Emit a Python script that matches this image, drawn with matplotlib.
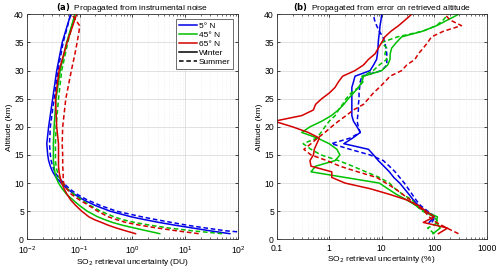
import numpy as np
import matplotlib
matplotlib.use("Agg")
import matplotlib.pyplot as plt
from matplotlib.lines import Line2D
from matplotlib.ticker import LogLocator, NullFormatter

plt.rcParams['font.family'] = ['Liberation Sans', 'DejaVu Sans']
plt.rcParams['font.size'] = 6

# panel (a): uncertainty from instrumental noise (DU)
alt_a = [1, 1.5, 2, 2.5, 3, 3.5, 4, 5, 6, 7, 8, 9, 10, 11, 12, 13, 14, 15, 17, 20, 25, 30, 35, 40]
a_5n_win = [70, 30, 14, 6.5, 3.2, 1.7, 0.95, 0.38, 0.2, 0.12, 0.08, 0.058, 0.045, 0.036, 0.031, 0.028,
            0.026, 0.025, 0.024, 0.026, 0.031, 0.037, 0.047, 0.068]
a_5n_sum = [250, 60, 25, 11, 5.5, 2.8, 1.5, 0.5, 0.25, 0.14, 0.09, 0.064, 0.05, 0.04, 0.034, 0.031,
            0.029, 0.028, 0.027, 0.028, 0.033, 0.039, 0.049, 0.068]
a_45n_win = [3.3, 1.9, 1.1, 0.65, 0.42, 0.3, 0.22, 0.14, 0.1, 0.075, 0.057, 0.047, 0.040, 0.036, 0.034,
             0.033, 0.032, 0.032, 0.032, 0.033, 0.036, 0.043, 0.057, 0.082]
a_45n_sum = [50, 14, 5, 2.2, 1.1, 0.65, 0.45, 0.25, 0.16, 0.11, 0.078, 0.058, 0.047, 0.041, 0.038,
             0.036, 0.035, 0.035, 0.035, 0.036, 0.04, 0.046, 0.06, 0.082]
a_65n_win = [1.15, 0.75, 0.5, 0.35, 0.26, 0.19, 0.15, 0.11, 0.085, 0.068, 0.058, 0.051, 0.046, 0.043,
             0.041, 0.040, 0.040, 0.040, 0.040, 0.037, 0.035, 0.041, 0.058, 0.088]
alt_a_65s = [1, 1.5, 2, 2.5, 3, 3.5, 4, 5, 6, 7, 8, 9, 10, 11, 12, 13, 14, 15, 17, 20, 25, 30, 33, 35,
             37, 38, 39, 40]
a_65n_sum = [18, 7, 3, 1.4, 0.75, 0.5, 0.35, 0.22, 0.15, 0.1, 0.07, 0.057, 0.05, 0.049, 0.049, 0.048,
             0.048, 0.048, 0.047, 0.048, 0.055, 0.07, 0.082, 0.09, 0.098, 0.10, 0.085, 0.071]

# panel (b): uncertainty from error on retrieved altitude (%)
alt_b = list(range(1, 41))
nan = np.nan
b_5n_win = [nan, nan, 80, 100, 65, 50, 40, 33, 27, 22, 17, 14, 11, 8.6, 7, 5.6, 1.9, 2.8, 3.9, 3.4,
            2.9, 2.7, 2.7, 2.7, 2.7, 2.7, 2.7, 2.9, 3.1, 6, 7, 8, 8.3, 8.5, 8.6, 8.8, 9.1, 9.3, 9.7, 10]
b_5n_sum = [nan, nan, 90, 105, 75, 55, 45, 38, 32, 27, 22, 18, 14, 10.7, 6, 2.5, 1.1, 2.5, 3.9, 3.6,
            3.4, 3.5, 3.6, 3.6, 3.7, 3.7, 3.8, 3.9, 4.2, 10, 12.5, 12.5, 12.5, 12, 11.5, 10.5, 9, 8,
            7.3, 6.9]
b_45n_win = [95, 130, 110, 115, 65, 45, 30, 19, 13, 9, 2, 0.45, 0.55, 1.3, 1.6, 1.4, 1.0, 0.6, 0.3,
             0.43, 0.72, 1.1, 1.5, 1.9, 2.3, 2.9, 3.6, 4.2, 4.5, 10, 13, 14.4, 14.5, 15.5, 19, 24, 60,
             112, 180, 290]
b_45n_sum = [100, 75, 120, 100, 60, 45, 38, 25, 18, 14, 9, 5, 2.8, 1.5, 0.7, 0.45, 0.32, 0.58, 0.7,
             0.83, 1.0, 1.3, 1.5, 1.8, 2.1, 2.6, 3.6, 4.4, 4.2, 6.9, 9, 12.5, 11.5, 12.5, 10, 20, 60,
             110, 148, 185]
b_65n_win = [120, 180, 62, 100, 70, 50, 30, 14, 6, 2.0, 1.12, 1.12, 0.45, 0.43, 0.5, 0.52, 0.58,
             0.65, 0.4, 0.2, 0.09, 0.3, 0.5, 0.55, 0.72, 1.0, 1.29, 1.5, 1.8, 3.1, 4.5, 5.6, 7.5, 8.6,
             10, 11.5, 15, 21, 28, 37]
b_65n_sum = [290, 174, 110, 80, 65, 46, 35, 25, 18, 12, 8, 3.5, 1.6, 0.9, 0.45, 0.33, 0.45, 0.6,
             0.83, 1.1, 1.5, 2.1, 2.9, 4.5, 5.6, 6.9, 9, 11.5, 14.4, 24, 30, 43, 50, 62, 75, 89, 150,
             330, 200, 160]

blue = '#0000e6'
green = '#00c000'
red = '#d40000'
lw = 1.1
dash = (3, 1.8)

fig = plt.figure(figsize=(5.0, 2.71), dpi=100)
ax1 = fig.add_axes([0.0534, 0.117, 0.4226, 0.830])
ax2 = fig.add_axes([0.5534, 0.117, 0.42, 0.830])


def style(ax):
    ax.set_xscale('log')
    ax.set_ylim(0, 40)
    ax.set_yticks(range(0, 41, 5))
    ax.grid(True, which='major', color='#dcdcdc', lw=0.6)
    ax.grid(True, which='minor', color='#e6e6e6', lw=0.4, ls=':')
    ax.tick_params(which='both', direction='in', top=True, right=True, labelsize=6.2)
    ax.tick_params(axis='y', pad=2)
    ax.tick_params(axis='x', pad=3.5)
    ax.tick_params(which='major', length=2.5, width=0.5)
    ax.tick_params(which='minor', length=1.3, width=0.4)
    for s in ax.spines.values():
        s.set_linewidth(0.6)
        s.set_color('#333333')
    ax.set_ylabel('Altitude (km)', fontsize=6, labelpad=1)
    ax.set_axisbelow(True)


# panel (a)
ax1.plot(a_5n_win, alt_a, color=blue, lw=lw)
ax1.plot(a_5n_sum, alt_a, color=blue, lw=lw, dashes=dash)
ax1.plot(a_45n_win, alt_a, color=green, lw=lw)
ax1.plot(a_45n_sum, alt_a, color=green, lw=lw, dashes=dash)
ax1.plot(a_65n_win, alt_a, color=red, lw=lw)
ax1.plot(a_65n_sum, alt_a_65s, color=red, lw=lw, dashes=dash)
style(ax1)
ax1.set_xlim(1e-2, 1e2)
ax1.set_xticks([1e-2, 1e-1, 1e0, 1e1, 1e2])
ax1.xaxis.set_minor_locator(LogLocator(base=10, subs=np.arange(2, 10)))
ax1.xaxis.set_minor_formatter(NullFormatter())
ax1.set_xlabel('SO$_2$ retrieval uncertainty (DU)', fontsize=6, labelpad=0.5)
ax1.set_title(r'$\bf{(a)}$  Propagated from instrumental noise', fontsize=6, pad=2)

handles = [Line2D([], [], color=blue, lw=lw), Line2D([], [], color=green, lw=lw),
           Line2D([], [], color=red, lw=lw), Line2D([], [], color='k', lw=lw),
           Line2D([], [], color='k', lw=lw, dashes=dash)]
labels = ['5° N', '45° N', '65° N', 'Winter', 'Summer']
leg = ax1.legend(handles, labels, loc='upper right', fontsize=6, handlelength=2.2,
                 handletextpad=0.2, labelspacing=0.15, borderpad=0.3, borderaxespad=0.6,
                 fancybox=False, framealpha=1)
leg.get_frame().set_edgecolor('#333333')
leg.get_frame().set_linewidth(0.5)

# panel (b)
ax2.plot(b_5n_win, alt_b, color=blue, lw=lw)
ax2.plot(b_5n_sum, alt_b, color=blue, lw=lw, dashes=dash)
ax2.plot(b_45n_win, alt_b, color=green, lw=lw)
ax2.plot(b_45n_sum, alt_b, color=green, lw=lw, dashes=dash)
ax2.plot(b_65n_win, alt_b, color=red, lw=lw)
ax2.plot(b_65n_sum, alt_b, color=red, lw=lw, dashes=dash)
style(ax2)
ax2.set_xlim(0.1, 1000)
ax2.set_xticks([0.1, 1, 10, 100, 1000])
ax2.set_xticklabels(['0.1', '1', '10', '100', '1000'])
ax2.xaxis.set_minor_locator(LogLocator(base=10, subs=np.arange(2, 10)))
ax2.xaxis.set_minor_formatter(NullFormatter())
ax2.set_xlabel('SO$_2$ retrieval uncertainty (%)', fontsize=6, labelpad=0.5)
ax2.set_title(r'$\bf{(b)}$  Propagated from error on retrieved altitude', fontsize=6, pad=2)

fig.savefig('out.png', dpi=100)
